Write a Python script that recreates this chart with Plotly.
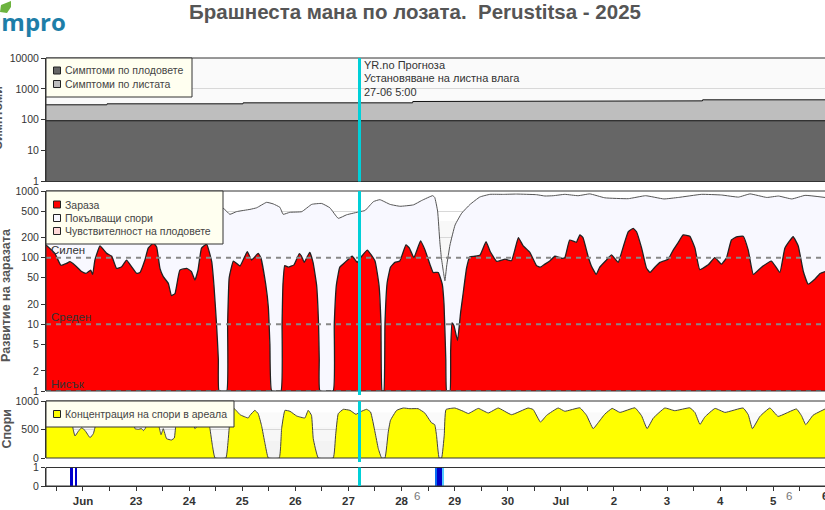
#!/usr/bin/env python3

import pandas as pd
import plotly.graph_objects as go

WIDTH = 825
HEIGHT = 510
FONT = "Liberation Sans"

# All x values are hours counted from 22 June 2025 00:00
START = pd.Timestamp("2025-06-22")
X_MIN_HOUR = -16.7
X_MAX_HOUR = 335.4
CURSOR_HOUR = 125

LEAF_HOURS = [-16.7, 10.8, 10.9, 72.3, 72.4, 149, 149.1, 205, 205.1, 280, 280.1, 335.4]
LEAF_VALUES = [305, 305, 328, 328, 353, 353, 390, 390, 409, 409, 442, 442]
FRUIT_HOURS = [-16.7, 335.4]
FRUIT_VALUES = [93, 93]

INFECTION_HOURS = [
    -16.7, -12.7, -10, -7.4, -5.9, -3.6, -0.6, 1.4, 3.5, 4.4, 5.4, 7.7, 10.7, 13, 15.2, 17.5, 19.7, 22, 24.3, 25.8,
    28, 29.5, 31.8, 33.3, 34.8, 36.3, 38.6, 40, 41.6, 43.8, 46.9, 49, 50.6, 52, 53.6, 55.9, 58.2, 59.2, 60.4, 61.2,
    61.5, 65, 65.4, 66.1, 68, 71, 73.2, 74.3, 76.2, 79.2, 80.4, 82.6, 83.8, 84.5, 85.3,
    89.5, 90, 90.1, 90.4, 91.2, 92.8, 95.4, 97.8, 98.8, 100, 102.5, 104, 105.6, 106.5, 106.8, 107.1,
    113.1, 113.6, 114.6, 116.1, 118.4, 121.7, 124, 125.5, 128.5, 132, 133.8, 134.7, 135.2,
    136, 136.5, 137.5, 139, 141, 143.2, 146, 147.5, 149.6, 152.6, 154.6, 157.1, 158.3, 160.6, 162.4, 163.2, 164, 164.4,
    165.9, 166.2, 166.8, 167.7, 169.3, 170.7, 171.9, 173.4, 174.9, 177.2, 179.5, 182.2, 184, 187, 190.8, 193.7,
    196.8, 199, 202, 205, 206.8, 208.8, 211, 213.3, 216.3, 217.8, 220, 223, 224.6, 226, 228.3, 229.8, 232, 233.6,
    236.6, 238.9, 241.9, 244, 246.5, 248.7, 250.2, 252.5, 254.7, 256.3, 258.5, 260.8, 264.5, 266.8, 269.1, 271.3,
    274.3, 276.6, 278.8, 282.6, 285.6, 288.6, 290.9, 293.1, 295.4, 298.4, 300.7, 303, 306.7, 311.2, 315, 317.3,
    321, 323.3, 325.6, 327.8, 330.9, 333.2, 335.4,
]
INFECTION_VALUES = [
    155, 116, 77, 82, 87, 77, 62, 58, 65, 56, 92, 150, 116, 105, 69, 73, 92, 73, 58, 60,
    92, 139, 165, 145, 69, 52, 41, 27, 29, 65, 69, 62, 46, 65, 139, 160, 87, 39, 9.8, 3,
    1, 1, 10, 50, 89, 75, 105, 123, 92, 116, 100, 40, 18, 5, 1,
    1, 10, 15, 39, 76, 72, 78, 115, 105, 85, 120, 85, 39, 10, 3, 1,
    1, 10, 40, 72, 85, 105, 85, 100, 130, 89, 39, 10, 1,
    1, 10, 42, 72, 85, 89, 155, 140, 100, 178, 130, 75, 60, 60, 40, 20, 3, 1,
    1, 4, 10.5, 9.5, 5.7, 15, 30, 70, 103, 105, 110, 174, 125, 88, 95, 90,
    200, 150, 120, 76, 72, 80, 89, 105, 98, 100, 184, 170, 219, 200, 105, 75, 56, 72,
    92, 110, 85, 138, 245, 275, 245, 140, 70, 60, 72, 85, 95, 130, 170, 219,
    210, 140, 66, 78, 100, 80, 100, 184, 205, 210, 130, 56, 72, 89, 60, 140,
    206, 150, 62, 40, 48, 58, 62,
]

SPORE_HOURS = [
    -16.7, 20, 40, 63.4, 66.4, 69.4, 75.5, 78.5, 83, 86, 89, 90.5, 93.5, 98.9, 103.4, 107.9, 111.6, 115.4, 119.2,
    125.2, 127.5, 131.3, 134.2, 138.8, 143.3, 149.4, 153.1, 158.1, 159, 160.3, 161.3, 162, 162.9, 163.6, 164.4,
    165.9, 168.2, 171.2, 175, 179.4, 184, 190, 196, 205, 208.8, 212.6, 217.8, 223.8, 229.1, 235.9, 246.5, 254.3,
    262.6, 269.1, 279.6, 288.7, 296.3, 301.5, 309.1, 314.4, 320.4, 326.4, 335.4,
]
SPORE_VALUES = [
    500, 520, 480, 550, 447, 490, 530, 560, 676, 640, 570, 447, 479, 490, 630, 650, 560, 389, 440,
    490, 510, 692, 741, 630, 590, 620, 720, 851, 800, 500, 174, 100, 62, 45, 75,
    155, 309, 465, 630, 813, 891, 890, 900, 880, 841, 850, 891, 850, 905, 790, 767, 850,
    760, 800, 891, 870, 810, 905, 800, 840, 760, 860, 800,
]

CONC_HOURS = [
    -16.7, -7.4, -5.1, -4.4, -3.6, -2.1, -0.6, 0.9, 3.2, 4.7, 5.7, 7.7, 22.7, 23.5, 25, 26.5, 27.3, 28.3, 29.5,
    33.3, 34.5, 35.3, 36.3, 37.8, 40, 41.3, 42.3, 49, 50.6, 52, 55.9, 57.4, 58.5, 59.7,
    64.6, 65.7, 66.7, 68.4, 71, 74.7, 75.5, 77.7, 79.2, 80.7, 82.3, 83.8,
    88.7, 89.8, 91.3, 93.6, 96.6, 100.3, 101.8, 103.3, 104.1, 106.4,
    113.1, 114.2, 115.4, 117.7, 120.7, 123.4, 125.2, 128.2, 130, 132, 133.5, 135,
    136.5, 138, 139, 141.8, 144.8, 147.8, 151.5, 154.5, 157.5, 159, 159.8, 161,
    162.1, 163.3, 164.1, 168.1, 171.9, 174.2, 178.7, 183.2, 187.7, 193.7, 201.2, 203.5, 206.8, 209.6, 214.8, 217.8,
    224.6, 227.6, 230.6, 232.9, 235.9, 239.2, 242.7, 249.5, 252.5, 255, 257.8, 263, 267.5, 274.3, 276.6, 278.9,
    281.1, 285.7, 290.2, 298.4, 300.7, 302.6, 306, 310.5, 314.2, 322.5, 324.8, 326.7, 330, 335.4,
]
CONC_VALUES = [
    800, 800, 650, 500, 386, 468, 530, 485, 357, 427, 573, 750, 700, 515, 503, 515, 480, 526, 800,
    750, 532, 409, 515, 339, 316, 351, 632, 800, 515, 573, 800, 515, 222, 0,
    0, 339, 749, 865, 760, 702, 749, 836, 778, 573, 251, 0,
    0, 515, 836, 819, 737, 702, 836, 749, 339, 0,
    0, 398, 778, 854, 836, 766, 807, 854, 807, 456, 164, 0,
    0, 456, 661, 836, 877, 865, 865, 790, 620, 585, 400, 0,
    0, 400, 850, 877, 820, 780, 870, 790, 877, 760, 877, 850, 630, 750, 877, 820,
    880, 750, 515, 620, 770, 870, 800, 880, 740, 515, 700, 877, 830, 880, 800, 590,
    720, 870, 800, 877, 760, 515, 730, 877, 730, 860, 740, 585, 750, 860,
]

WET_HOURS = [-5.1, -3.1, 159.9, 160.9, 161.9, 162.9]
WET_VALUES = [1, 1, 1, 1, 1, 1]
WET_COLORS = ["#0000cc", "#0000cc", "#0a6cf0", "#0000c8", "#0000c8", "#55ccff"]

DAY_LABELS = ["Jun", "23", "24", "25", "26", "27", "28", "29", "30", "Jul", "2", "3", "4", "5", "6"]
TICK_HOURS = [12 * i - 12 for i in range(30)]
TICK_LABELS = [DAY_LABELS[i // 2] if i % 2 == 1 else "" for i in range(30)]
SIX_LABEL_HOURS = [151, 319]

SEVERITY_LEVELS = [100, 10, 1]
SEVERITY_LABELS = ["Силен", "Среден", "Нисък"]

# top and bottom pixel of each panel, and how far the cursor runs past the bottom
PANELS = [(58, 181.5), (191, 391), (401, 458), (467.5, 486)]
CURSOR_OVERHANG = [0, 4, 4, 0]
PLOT_LEFT = 46


def to_time(hours):
    return START + pd.to_timedelta(hours, unit="h")


def px_x(x):
    return x / WIDTH


def px_y(y):
    return 1 - y / HEIGHT


def add_area(fig, hours, values, yaxis, fill, line, width=1, shape="linear"):
    fig.add_trace(go.Scatter(
        x=to_time(hours), y=values, yaxis=yaxis, mode="lines", fill="tozeroy", fillcolor=fill,
        line=dict(color=line, width=width, shape=shape, smoothing=0.35), hoverinfo="skip", showlegend=False,
    ))


def add_text(fig, x, y, text, size, color, xanchor="left", angle=0):
    fig.add_annotation(xref="paper", yref="paper", x=px_x(x), y=px_y(y), text=text, showarrow=False,
                       xanchor=xanchor, yanchor="middle", textangle=angle, borderpad=0, borderwidth=0,
                       font=dict(family=FONT, size=size, color=color))


def add_legend_box(fig, box, items):
    """Draws one legend box from pixel positions: items are (centre y, colour, text)."""
    left, top, right, bottom = box
    fig.add_shape(type="rect", xref="paper", yref="paper", x0=px_x(left), x1=px_x(right),
                  y0=px_y(bottom), y1=px_y(top), fillcolor="#fffff0", line=dict(color="#333333", width=1))
    for centre, colour, text in items:
        fig.add_shape(type="rect", xref="paper", yref="paper", x0=px_x(53.5), x1=px_x(60.5),
                      y0=px_y(centre + 3.5), y1=px_y(centre - 3.5), fillcolor=colour,
                      line=dict(color="#222222", width=1))
        add_text(fig, 65, centre, text, 10.5, "#444444")


fig = go.Figure()

add_area(fig, LEAF_HOURS, LEAF_VALUES, "y", "#bebebe", "#111111")
add_area(fig, FRUIT_HOURS, FRUIT_VALUES, "y", "#666666", "#111111")
add_area(fig, SPORE_HOURS, SPORE_VALUES, "y2", "#f8f8ff", "#555555", shape="spline")
add_area(fig, INFECTION_HOURS, INFECTION_VALUES, "y2", "#ff0000", "#222222", 1.3, shape="spline")
add_area(fig, CONC_HOURS, CONC_VALUES, "y3", "#ffff00", "#444444", shape="spline")

fig.add_trace(go.Bar(
    x=to_time(WET_HOURS), y=WET_VALUES, yaxis="y4", marker=dict(color=WET_COLORS, line_width=0),
    width=0.85 * 3600000, hoverinfo="skip", showlegend=False,
))

# Severity thresholds
for level in SEVERITY_LEVELS:
    fig.add_trace(go.Scatter(
        x=to_time([X_MIN_HOUR, X_MAX_HOUR]), y=[level, level], yaxis="y2", mode="lines",
        line=dict(color="#888888", width=2, dash="5px,5px"), hoverinfo="skip", showlegend=False,
    ))

axis_style = dict(
    showline=True, linecolor="#333333", linewidth=1, ticks="outside", ticklen=4, tickcolor="#333333",
    tickfont=dict(family=FONT, size=10.5, color="#333333"), zeroline=False, fixedrange=True,
)


def domain(panel):
    top, bottom = PANELS[panel]
    return [px_y(bottom), px_y(top)]


fig.update_layout(
    width=WIDTH, height=HEIGHT, margin=dict(l=0, r=0, t=0, b=0, autoexpand=False),
    paper_bgcolor="white", plot_bgcolor="white", showlegend=False, bargap=0,
    xaxis=dict(
        domain=[px_x(PLOT_LEFT), 1], anchor="y4", type="date", range=[to_time(X_MIN_HOUR), to_time(X_MAX_HOUR)],
        tickvals=to_time(TICK_HOURS), ticktext=TICK_LABELS, tickangle=0,
        showgrid=False, showline=True, linecolor="#333333", ticks="outside", ticklen=4, tickcolor="#333333",
        tickfont=dict(family=FONT, size=11.5, color="#333333", weight="bold"), fixedrange=True,
    ),
    yaxis=dict(domain=domain(0), type="log", range=[0, 4], tickvals=[1, 10, 100, 1000, 10000],
               ticktext=["1", "10", "100", "1000", "10000"], gridcolor="#d8d8d8", **axis_style),
    yaxis2=dict(domain=domain(1), type="log", range=[0, 3], tickvals=[1, 2, 5, 10, 20, 50, 100, 200, 500, 1000],
                ticktext=["1", "2", "5", "10", "20", "50", "100", "200", "500", "1000"], gridcolor="#d8d8d8",
                **axis_style),
    yaxis3=dict(domain=domain(2), range=[0, 1000], tickvals=[0, 500, 1000], ticktext=["0", "500", "1000"],
                gridcolor="#d8d8d8", **axis_style),
    yaxis4=dict(domain=domain(3), range=[0, 1], tickvals=[0, 1], ticktext=["0", "1"], showgrid=False, **axis_style),
)

# Soft grey behind the areas, stepped so it fades towards the top of each panel
for ref, low, high, colour in [
    ("y domain", 0.6, 1, "#fafafa"),
    ("y2 domain", 0.05, 0.85, "#f8f8f8"),
    ("y3 domain", 0.55, 0.8, "#fafafa"),
    ("y3 domain", 0.3, 0.55, "#f7f7f7"),
    ("y3 domain", 0, 0.3, "#f3f3f3"),
]:
    fig.add_shape(type="rect", xref="x domain", yref=ref, x0=0, x1=1, y0=low, y1=high, layer="below",
                  fillcolor=colour, line_width=0)

# Panel frames and the current time cursor
for (top, bottom), overhang in zip(PANELS, CURSOR_OVERHANG):
    fig.add_shape(type="rect", xref="paper", yref="paper", x0=px_x(PLOT_LEFT), x1=1.01, y0=px_y(bottom), y1=px_y(top),
                  line=dict(color="#333333", width=1))
    fig.add_shape(type="line", xref="x", yref="paper", x0=to_time(CURSOR_HOUR), x1=to_time(CURSOR_HOUR),
                  y0=px_y(bottom + overhang), y1=px_y(top), line=dict(color="#00d0d8", width=3))

add_legend_box(fig, (46, 58, 192, 97), [
    (70.5, "#666666", "Симптоми по плодовете"),
    (84, "#bebebe", "Симптоми по листата"),
])
add_legend_box(fig, (46, 191, 223, 244), [
    (204.5, "#ff0000", "Зараза"),
    (218, "#f8f8ff", "Покълващи спори"),
    (231, "#ffd8d8", "Чувствителност на плодовете"),
])
add_legend_box(fig, (46, 401, 234, 427), [
    (414, "#ffff00", "Концентрация на спори в ареала"),
])

# Severity labels sit just above their dashed line
for label, y in zip(SEVERITY_LABELS, [250, 317, 383.5]):
    add_text(fig, 51, y, label, 11.5, "#333333")

for i, text in enumerate(["YR.no Прогноза", "Установяване на листна влага", "27-06 5:00"]):
    add_text(fig, 364, 64.5 + 13.5 * i, text, 11, "#333333")

for hour in SIX_LABEL_HOURS:
    fig.add_annotation(xref="x", yref="paper", x=to_time(hour), y=px_y(496), text="6", showarrow=False,
                       yanchor="middle", font=dict(family=FONT, size=11.5, color="#777777"))

# Last day label sits on the right edge and is cut off there
add_text(fig, 822, 496, "<b>6</b>", 11.5, "#333333")

for text, x, y in [("Симптоми", -2, 118), ("Развитие на заразата", 6, 295), ("Спори", 6, 428.5)]:
    add_text(fig, x, y, f"<b>{text}</b>", 12.5, "#555555", xanchor="center", angle=-90)

add_text(fig, 415, 11, "<b>Брашнеста мана по лозата.  Perustitsa - 2025</b>", 20.5, "#555555", xanchor="center")

# Logo
fig.add_annotation(xref="paper", yref="paper", x=px_x(68), y=px_y(22), text="<b>impro</b>", showarrow=False,
                   xanchor="right", yanchor="middle", font=dict(family="Open Sans", size=24, color="#1d7ea8"))
leaf = [(0, 12), (1, 5), (6, 3), (11, 1), (11, 7), (7, 13), (0, 12)]
leaf_path = "M " + " L ".join(f"{px_x(x)} {px_y(y)}" for x, y in leaf) + " Z"
fig.add_shape(type="path", xref="paper", yref="paper", path=leaf_path, fillcolor="#6db33f", line_width=0)

fig.write_html("out.html", config=dict(displayModeBar=False), post_script="document.body.style.margin='0';")
